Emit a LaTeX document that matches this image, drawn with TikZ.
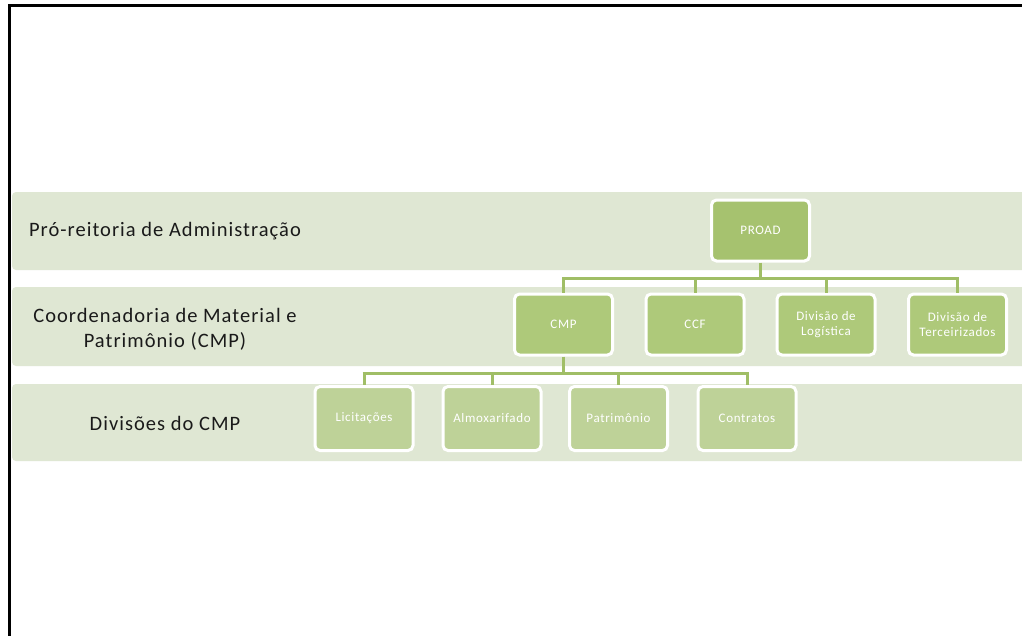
\documentclass[tikz,border=0pt]{standalone}
\usepackage{fontspec}
\setmainfont{Carlito}
\usetikzlibrary{positioning}

\definecolor{bandfill}{HTML}{DFE7D3}
\definecolor{topfill}{HTML}{A6C26F}
\definecolor{midfill}{HTML}{AEC97A}
\definecolor{lowfill}{HTML}{BED298}
\definecolor{linkcol}{HTML}{A0BE66}
\definecolor{labelcol}{HTML}{1A1A1A}

\tikzset{
  band/.style={fill=bandfill,rounded corners=4pt},
  bandlabel/.style={text=labelcol,align=center,
    font=\fontsize{20.5}{25}\selectfont\addfontfeature{LetterSpace=5}},
  orgbox/.style={draw=white,line width=3pt,rounded corners=5pt,text=white,
    align=center,minimum width=98pt,minimum height=61pt,inner sep=2pt,
    font=\fontsize{13}{15}\selectfont\addfontfeature{LetterSpace=5}},
  link/.style={draw=linkcol,line width=3pt}
}

\begin{document}
\begin{tikzpicture}[x=1pt,y=-1pt]
      \useasboundingbox (0,0) rectangle (1022,635);
      \fill[white] (0,0) rectangle (1022,635);
      \clip (0,0) rectangle (1022,635);
      % Drawing bands
      \fill[band] (12,192) rectangle (1030,270);
      \fill[band] (12,287) rectangle (1030,366);
      \fill[band] (12,384) rectangle (1030,461);
      \node[bandlabel] (lblproad) at (165,231) {Pró-reitoria de Administração};
      \node[bandlabel] (lblcmp) at (165,329.5) {Coordenadoria de Material e\\Patrimônio (CMP)};
      \node[bandlabel] (lbldiv) at (165,423) {Divisões do CMP};
      % Done with bands; drawing boxes
      \node[orgbox,fill=topfill] (proad) at (760.5,230.5) {PROAD};
      \node[orgbox,fill=midfill] (cmp) at (563.5,324.5) {CMP};
      \node[orgbox,fill=midfill] (ccf) at (695,324.5) {CCF};
      \node[orgbox,fill=midfill] (logistica) at (826,324.5) {Divisão de\\Logística};
      \node[orgbox,fill=midfill] (terceirizados) at (957.5,324.5) {Divisão de\\Terceirizados};
      \node[orgbox,fill=lowfill,minimum height=64pt] (licitacoes) at (364,418.5) {Licitações};
      \node[orgbox,fill=lowfill,minimum height=64pt] (almoxarifado) at (492,418.5) {Almoxarifado};
      \node[orgbox,fill=lowfill,minimum height=64pt] (patrimonio) at (618.5,418.5) {Patrimônio};
      \node[orgbox,fill=lowfill,minimum height=64pt] (contratos) at (747,418.5) {Contratos};
      % Done with boxes; drawing links
      \coordinate (busa) at (0,278);
      \draw[link] (proad.south) -- (proad.south |- busa);
      \draw[link] ([xshift=-1.5pt]cmp.north |- busa) -- ([xshift=1.5pt]terceirizados.north |- busa);
      \foreach \n in {cmp,ccf,logistica,terceirizados}
        \draw[link] (\n.north |- busa) -- (\n.north);
      \coordinate (busb) at (0,373.5);
      \draw[link] (cmp.south) -- (cmp.south |- busb);
      \draw[link] ([xshift=-1.5pt]licitacoes.north |- busb) -- ([xshift=1.5pt]contratos.north |- busb);
      \foreach \n in {licitacoes,almoxarifado,patrimonio,contratos}
        \draw[link] (\n.north |- busb) -- (\n.north);
      % Done with links; drawing frame
      \draw[line width=3pt] (9.5,640) -- (9.5,5.5) -- (1030,5.5);
    \end{tikzpicture}
\end{document}
